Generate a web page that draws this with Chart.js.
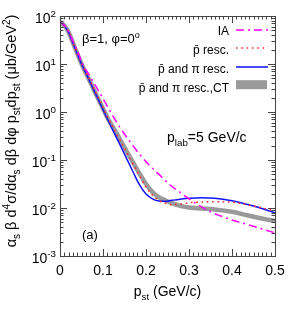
<!DOCTYPE html>
<html><head><meta charset="utf-8">
<script src="https://cdn.jsdelivr.net/npm/chart.js@4.4.0/dist/chart.umd.min.js"></script>
<style>html,body{margin:0;padding:0;background:#fff;}canvas{display:block;}</style>
</head><body>
<canvas id="c" width="300" height="315"></canvas>
<script>
// ---- data ----
const pIA  = [0, 0.01, 0.02, 0.03, 0.04, 0.053, 0.07, 0.087, 0.105, 0.12, 0.14, 0.163, 0.185, 0.209, 0.23, 0.256, 0.283, 0.308, 0.33, 0.35, 0.375, 0.40, 0.43, 0.45, 0.475, 0.50];
const vIA  = [75.9, 64.6, 47.9, 30.2, 19.1, 10.0, 5.50, 3.02, 1.585, 0.912, 0.468, 0.240, 0.132, 0.0759, 0.0501, 0.0302, 0.0200, 0.0138, 0.01047, 0.00832, 0.00676, 0.00562, 0.00468, 0.00417, 0.00355, 0.00302];

const pRes = [0, 0.01, 0.02, 0.03, 0.04, 0.05, 0.065, 0.08, 0.095, 0.11, 0.125, 0.14, 0.155, 0.17, 0.185, 0.2, 0.215, 0.23, 0.245, 0.26, 0.28, 0.30, 0.33, 0.37, 0.40, 0.43, 0.46, 0.50];
const vRes = [75.9, 63.1, 47.0, 28.5, 17.2, 10.3, 5.50, 2.90, 1.55, 0.800, 0.452, 0.255, 0.144, 0.0813, 0.0468, 0.0275, 0.0186, 0.01445, 0.0126, 0.0117, 0.01202, 0.0129, 0.01334, 0.01349, 0.0132, 0.0120, 0.0105, 0.00871];

const pPi  = [0, 0.01, 0.02, 0.03, 0.04, 0.05, 0.065, 0.08, 0.095, 0.11, 0.125, 0.14, 0.155, 0.17, 0.185, 0.2, 0.215, 0.23, 0.245, 0.26, 0.28, 0.30, 0.33, 0.36, 0.40, 0.45, 0.50];
const vPi  = [75.9, 63.1, 45.7, 27.5, 16.6, 10.0, 5.25, 2.69, 1.41, 0.724, 0.380, 0.204, 0.107, 0.0562, 0.0302, 0.0195, 0.0155, 0.01396, 0.0138, 0.01445, 0.0153, 0.0160, 0.0164, 0.0160, 0.0141, 0.01096, 0.00794];

const pCT  = [0, 0.01, 0.02, 0.03, 0.04, 0.05, 0.065, 0.08, 0.095, 0.11, 0.125, 0.14, 0.155, 0.17, 0.185, 0.2, 0.215, 0.23, 0.245, 0.26, 0.28, 0.30, 0.33, 0.36, 0.40, 0.434, 0.47, 0.50];
const vCT  = [75.9, 63.1, 45.9, 27.7, 16.7, 10.05, 5.30, 2.74, 1.46, 0.770, 0.455, 0.262, 0.152, 0.0880, 0.0520, 0.0316, 0.0214, 0.0166, 0.01445, 0.0126, 0.0111, 0.01023, 0.00977, 0.00933, 0.00832, 0.00708, 0.00603, 0.00537];

const xTickLabels = ['0', '0.1', '0.2', '0.3', '0.4', '0.5'];
const xTickValues = [0, 0.1, 0.2, 0.3, 0.4, 0.5];
const yDecades = [-3, -2, -1, 0, 1, 2];

const FONT = '"Liberation Sans", Arial, Helvetica, sans-serif';

function richWidth(ctx, segs, size) {
  let w = 0;
  for (const [t, k] of segs) { ctx.font = (k ? size * 0.7 : size) + 'px ' + FONT; w += ctx.measureText(t).width; }
  return w;
}
function drawRich(ctx, segs, x, y, size, align) {
  const total = richWidth(ctx, segs, size);
  let cx = align === 'right' ? x - total : align === 'center' ? x - total / 2 : x;
  ctx.textAlign = 'left'; ctx.textBaseline = 'alphabetic';
  for (const [t, k] of segs) {
    ctx.font = (k ? size * 0.7 : size) + 'px ' + FONT;
    const dy = k === 1 ? size * 0.3 : k === 2 ? -size * 0.42 : 0;
    ctx.fillText(t, cx, y + dy);
    cx += ctx.measureText(t).width;
  }
}

function mk(label, xs, ys, color, width, dash, order) {
  return { label, data: xs.map((x, i) => ({ x, y: ys[i] })), borderColor: color, backgroundColor: color,
    borderWidth: width, borderDash: dash, pointRadius: 0, fill: false, cubicInterpolationMode: 'monotone', order };
}

const decor = {
  id: 'decor',
  afterDraw(chart) {
    const ctx = chart.ctx, a = chart.chartArea, xs = chart.scales.x, ys = chart.scales.y;
    ctx.save();
    ctx.strokeStyle = '#444'; ctx.lineWidth = 1; ctx.setLineDash([]);
    ctx.strokeRect(Math.round(a.left) + 0.5, Math.round(a.top) + 0.5, Math.round(a.right - a.left), Math.round(a.bottom - a.top));
    ctx.beginPath();
    for (let i = 0; i <= 50; i++) {
      const px = Math.round(xs.getPixelForValue(i / 100)) + 0.5;
      const len = i % 10 === 0 ? 7 : 3.5;
      ctx.moveTo(px, a.bottom); ctx.lineTo(px, a.bottom - len);
      ctx.moveTo(px, a.top); ctx.lineTo(px, a.top + len);
    }
    for (const d of yDecades) {
      for (let k = 1; k <= 9; k++) {
        if (d === 2 && k > 1) break;
        const py = Math.round(ys.getPixelForValue(k * Math.pow(10, d))) + 0.5;
        const len = k === 1 ? 7 : 3.5;
        ctx.moveTo(a.left, py); ctx.lineTo(a.left + len, py);
        ctx.moveTo(a.right, py); ctx.lineTo(a.right - len, py);
      }
    }
    ctx.stroke();

    ctx.fillStyle = '#000';
    ctx.font = '14px ' + FONT; ctx.textAlign = 'center'; ctx.textBaseline = 'alphabetic';
    xTickValues.forEach((v, i) => ctx.fillText(xTickLabels[i], xs.getPixelForValue(v), a.bottom + 19));
    for (const d of yDecades) {
      const py = ys.getPixelForValue(Math.pow(10, d));
      drawRich(ctx, [['10', 0], [String(d), 2]], 56, py + 7, 14, 'right');
    }
    drawRich(ctx, [['p', 0], ['st', 1], [' (GeV/c)', 0]], (a.left + a.right) / 2, 295.5, 14, 'center');
    ctx.save();
    ctx.translate(16, 131);
    ctx.rotate(-Math.PI / 2);
    drawRich(ctx, [['α', 0], ['s', 1], [' β d', 0], ['4', 2], ['σ/dα', 0], ['s', 1], [' dβ dφ p', 0], ['st', 1], ['dp', 0], ['st', 1], [' (μb/GeV', 0], ['2', 2], [')', 0]], 0, 0, 14.5, 'center');
    ctx.restore();

    drawRich(ctx, [['β=1, φ=0', 0], ['o', 2]], 82, 43, 13, 'left');
    drawRich(ctx, [['p', 0], ['lab', 1], ['=5 GeV/c', 0]], 167, 141.5, 14, 'left');
    drawRich(ctx, [['(a)', 0]], 82, 239, 13, 'left');

    const items = chart.data.datasets;
    const names = [[['IA', 0]], [['p̄ resc.', 0]], [['p̄ and π resc.', 0]], [['p̄ and π resc.,CT', 0]]];
    const base = [34.7, 54, 73.3, 91.7];
    const sy = [30, 48, 67, 84.7];
    for (let i = 0; i < 4; i++) {
      const d = items[i];
      ctx.fillStyle = '#000';
      drawRich(ctx, names[i], 229, base[i], 12, 'right');
      if (i === 3) {
        ctx.fillStyle = d.borderColor; ctx.fillRect(236, sy[i] - 4.5, 31, 9);
      } else {
        ctx.strokeStyle = d.borderColor; ctx.lineWidth = d.borderWidth; ctx.setLineDash(d.borderDash);
        ctx.beginPath(); ctx.moveTo(236, sy[i]); ctx.lineTo(268, sy[i]); ctx.stroke();
        ctx.setLineDash([]);
      }
    }
    ctx.restore();
  }
};

new Chart(document.getElementById('c').getContext('2d'), {
  type: 'line',
  data: { datasets: [
    mk('IA', pIA, vIA, '#ff00ff', 1.5, [8, 4, 2, 4], 1),
    mk('p̄ resc.', pRes, vRes, '#ff3030', 1.6, [1.6, 3.7], 2),
    mk('p̄ and π resc.', pPi, vPi, '#1010ff', 1.5, [], 3),
    mk('p̄ and π resc.,CT', pCT, vCT, '#9a9a9a', 4.5, [], 4)
  ]},
  options: {
    responsive: false, animation: false, devicePixelRatio: 1,
    layout: { padding: { left: 60, right: 25, top: 16, bottom: 59 } },
    plugins: { legend: { display: false }, tooltip: { enabled: false } },
    scales: {
      x: { type: 'linear', min: 0, max: 0.5, display: false },
      y: { type: 'logarithmic', min: 0.001, max: 100, display: false }
    }
  },
  plugins: [decor]
});
</script>
</body></html>
